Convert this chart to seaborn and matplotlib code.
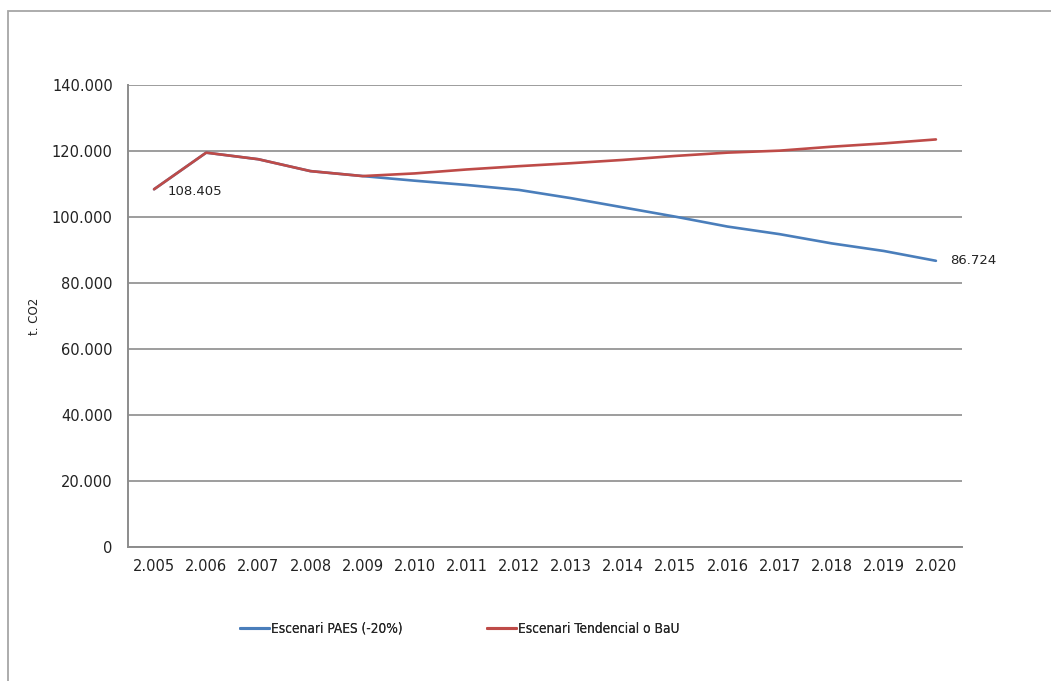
import matplotlib
matplotlib.use("Agg")
import matplotlib.pyplot as plt
from matplotlib.patches import Rectangle
from matplotlib.ticker import FuncFormatter
from matplotlib import font_manager
import seaborn as sns
import pandas as pd

years = list(range(2005, 2021))
paes = [108405, 119500, 117500, 113900, 112400, 111000, 109700, 108200,
        105700, 102900, 100100, 97100, 94800, 92000, 89700, 86724]
bau = [108405, 119500, 117500, 113900, 112400, 113200, 114400, 115400,
       116300, 117300, 118500, 119500, 120100, 121300, 122300, 123500]
series_names = ["Escenari PAES (-20%)", "Escenari Tendencial o BaU"]
series_colors = ["#4A7EBB", "#BE4B48"]
y_ticks = [0, 20000, 40000, 60000, 80000, 100000, 120000, 140000]

df = pd.DataFrame({
    "year": years * 2,
    "value": paes + bau,
    "scenario": [series_names[0]] * len(years) + [series_names[1]] * len(years),
})

sns.set_theme(style="white")
plt.rcParams["font.family"] = ["DejaVu Sans"]

fig = plt.figure(figsize=(10.51, 6.81), dpi=100)
ax = fig.add_axes([0.1218, 0.1968, 0.7935, 0.6784])

sns.lineplot(data=df, x="year", y="value", hue="scenario",
             palette=dict(zip(series_names, series_colors)),
             linewidth=1.9, ax=ax, legend=False)

def thousands(v, _pos=None):
    return f"{int(round(v)):,}".replace(",", ".")

ax.set_xlim(2004.5, 2020.5)
ax.set_ylim(0, 140000)
ax.set_yticks(y_ticks)
ax.yaxis.set_major_formatter(FuncFormatter(thousands))
ax.set_xticks(years)
ax.set_xticklabels([thousands(y) for y in years])
ax.tick_params(axis="both", length=0, labelsize=10.5, colors="#222222")
ax.tick_params(axis="x", pad=9)
ax.tick_params(axis="y", pad=11)
ax.grid(axis="y", color="#8c8c8c", linewidth=1.2)
ax.set_axisbelow(True)
for side in ["top", "right"]:
    ax.spines[side].set_visible(False)
for side in ["left", "bottom"]:
    ax.spines[side].set_color("#8c8c8c")
    ax.spines[side].set_linewidth(1.4)
ax.set_xlabel("")
ax.set_ylabel("")
fig.text(35 / 1051, 1 - 316 / 681, "t. CO2", rotation=90, ha="center",
         va="center", fontsize=8.5, color="#222222")

ax.annotate(thousands(paes[0]), (years[0], paes[0]), xytext=(13, -2),
            textcoords="offset pixels", ha="left", va="center",
            fontsize=9.5, color="#222222")
ax.annotate(thousands(paes[-1]), (years[-1], paes[-1]), xytext=(14, 0),
            textcoords="offset pixels", ha="left", va="center",
            fontsize=9.5, color="#222222")

# narrow legend font
legend_font = font_manager.FontProperties(family=["DejaVu Sans"],
                                          stretch="condensed", size=9.8)
legend_x = [240 / 1051, 487 / 1051]
for name, color, lx in zip(series_names, series_colors, legend_x):
    h = plt.Line2D([], [], color=color, linewidth=2.2)
    leg = fig.legend([h], [name], loc="center left",
                     bbox_to_anchor=(lx, 1 - 629 / 681), frameon=False,
                     borderpad=0, borderaxespad=0, handlelength=2.1,
                     handletextpad=0.15, prop=legend_font)
    fig.add_artist(leg)

# chart frame
fig.patches.append(Rectangle((8 / 1051, -0.05), 1.2, (681 - 11) / 681 + 0.05,
                             transform=fig.transFigure, fill=False,
                             edgecolor="#a6a6a6", linewidth=1.3))

fig.savefig("out.png", dpi=100, facecolor="white")
